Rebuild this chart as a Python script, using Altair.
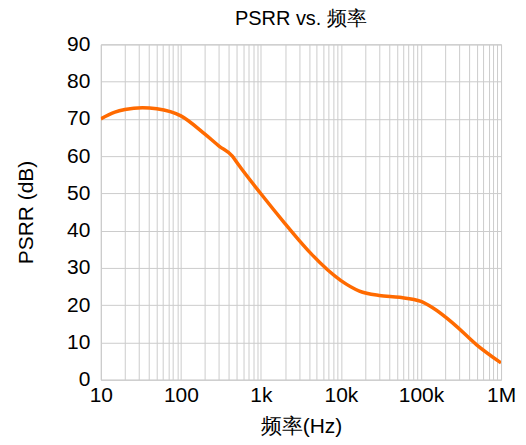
import altair as alt
import pandas as pd

freq = [10, 15, 20, 33, 50, 100, 200, 300, 440, 520, 1000, 2000, 3000, 4200,
        10000, 17000, 30000, 54000, 100000, 140000, 250000, 500000, 1000000]
psrr = [70.0, 71.8, 72.5, 73.0, 72.7, 70.8, 65.9, 62.7, 60.0, 57.8, 49.9, 41.9, 37.4,
        33.9, 26.6, 23.8, 22.6, 22.1, 21.0, 19.3, 15.2, 9.3, 4.5]

x_ticks = [m * 10 ** e for e in range(1, 6) for m in range(1, 10)] + [1000000]
y_ticks = [0, 10, 20, 30, 40, 50, 60, 70, 80, 90]

df = pd.DataFrame({"f": freq, "p": psrr})

font = "Liberation Sans"

chart = alt.Chart(df).mark_line(
    color="#FF6A00", strokeWidth=3.5, interpolate="monotone", clip=True
).encode(
    x=alt.X("f:Q", scale=alt.Scale(type="log", domain=[10, 1000000], nice=False),
            axis=alt.Axis(values=x_ticks, format="~s",
                          labelExpr="indexof([10,100,1000,10000,100000,1000000], datum.value) >= 0 ? datum.label : ''",
                          title="频率(Hz)", labelFlush=False, labelOverlap=False)),
    y=alt.Y("p:Q", scale=alt.Scale(domain=[0, 90], nice=False),
            axis=alt.Axis(values=y_ticks, title="PSRR (dB)")),
).properties(
    width=401, height=336,
    title=alt.TitleParams("PSRR vs. 频率", font=font, fontSize=20, fontWeight="normal",
                          color="#000000", anchor="middle", offset=4),
    autosize=alt.AutoSizeParams(type="none"),
    padding={"left": 93, "top": 36, "right": 17, "bottom": 65},
).configure_view(
    stroke="#c4c4c4", strokeWidth=1
).configure_axis(
    grid=True, gridColor="#cccccc", gridWidth=1, domain=False, ticks=False,
    labelFont=font, labelFontSize=21, labelColor="#000000",
    titleFont=font, titleFontSize=21, titleFontWeight="normal", titleColor="#000000",
).configure_axisX(
    labelPadding=5, titlePadding=10
).configure_axisY(
    labelPadding=11, titlePadding=30
)

chart.save("out.html", embed_options={"renderer": "svg", "actions": False})
